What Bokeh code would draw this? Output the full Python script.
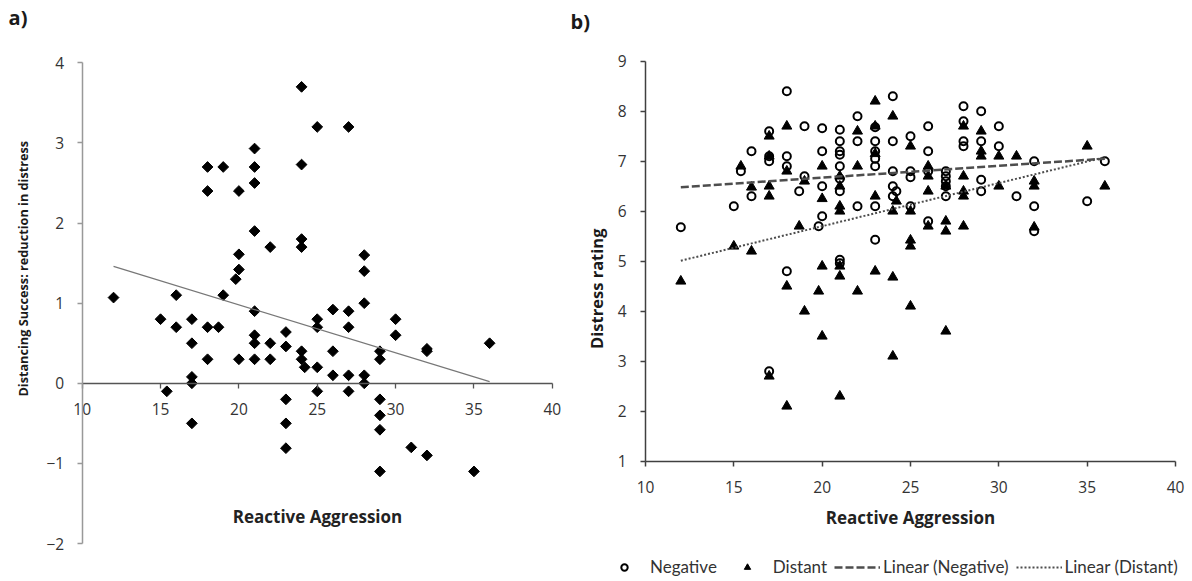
import numpy as np
from bokeh.plotting import figure
from bokeh.layouts import row
from bokeh.models import Range1d, FixedTicker, Legend, LegendItem, Label
from bokeh.embed import file_html
from bokeh.resources import INLINE

# ---------------- data ----------------
x_ticks = [10, 15, 20, 25, 30, 35, 40]
a_y_ticks = [-2, -1, 0, 1, 2, 3, 4]
b_y_ticks = [1, 2, 3, 4, 5, 6, 7, 8, 9]

# panel a: Reactive Aggression vs Distancing Success
a_reactive = [12, 15, 15.4, 16, 16, 17, 17, 17, 17, 17, 18, 18, 18, 18, 18.7, 19, 19,
              19.8, 20, 20, 20, 20, 21, 21, 21, 21, 21, 21, 21, 21, 22, 22, 22, 23, 23,
              23, 23, 23, 24, 24, 24, 24, 24, 24, 24.2, 25, 25, 25, 25, 25, 26, 26, 26,
              27, 27, 27, 27, 27, 28, 28, 28, 28, 28, 29, 29, 29, 29, 29, 29, 30, 30, 31,
              32, 32, 32, 35, 36]
a_success = [1.07, 0.8, -0.1, 1.1, 0.7, 0.8, 0.5, 0.08, 0.0, -0.5, 2.7, 2.4, 0.7, 0.3,
             0.7, 2.7, 1.1, 1.3, 2.4, 1.61, 1.42, 0.3, 2.93, 2.7, 2.5, 1.9, 0.9, 0.6, 0.5,
             0.3, 1.7, 0.5, 0.3, 0.64, 0.46, -0.2, -0.5, -0.81, 3.7, 2.73, 1.8, 1.7, 0.4,
             0.3, 0.2, 3.2, 0.8, 0.7, 0.2, -0.1, 0.92, 0.4, 0.1, 3.2, 0.9, 0.7, 0.1, -0.1,
             1.6, 1.4, 1.0, 0.1, 0.0, 0.4, 0.3, -0.2, -0.4, -0.58, -1.1, 0.8, 0.6, -0.8,
             0.43, 0.4, -0.9, -1.1, 0.5]
a_trend_x = [12, 36]
a_trend_y = [1.46, 0.02]

# panel b: Distress rating (Negative / Distant)
neg_x = [12, 15, 15.4, 16, 16, 17, 17, 17, 17, 18, 18, 18, 18, 18.7, 19, 19, 19.8,
         20, 20, 20, 20, 21, 21, 21, 21, 21, 21, 21, 21, 21, 22, 22, 22,
         23, 23, 23, 23, 23, 23, 23, 24, 24, 24, 24, 24, 24.2, 25, 25, 25, 25,
         26, 26, 26, 26, 27, 27, 27, 27, 27, 28, 28, 28, 28, 29, 29, 29, 29,
         30, 30, 31, 32, 32, 32, 35, 36]
neg_y = [5.68, 6.1, 6.8, 7.2, 6.3, 7.6, 7.1, 7.0, 2.8, 8.4, 7.1, 6.9, 4.8, 6.4, 7.7, 6.7, 5.7,
         7.66, 7.2, 6.5, 5.9, 7.63, 7.4, 7.2, 7.13, 6.9, 6.65, 6.4, 5.03, 4.96, 7.9, 7.4, 6.1,
         7.68, 7.4, 7.2, 7.05, 6.9, 6.1, 5.43, 8.3, 7.4, 6.8, 6.5, 6.3, 6.4, 7.5, 6.8, 6.68, 6.1,
         7.7, 7.2, 6.8, 5.8, 6.8, 6.7, 6.6, 6.5, 6.3, 8.1, 7.8, 7.4, 7.3, 8.0, 7.4, 6.63, 6.4,
         7.7, 7.3, 6.3, 7.0, 6.1, 5.6, 6.2, 7.0]
dist_x = [12, 15, 15.4, 16, 16, 17, 17, 17, 17, 17, 18, 18, 18, 18, 18.7, 19, 19, 19.8,
          20, 20, 20, 20, 21, 21, 21, 21, 21, 21, 21, 22, 22, 22, 23, 23, 23, 23, 23,
          24, 24, 24, 24, 24.2, 25, 25, 25, 25, 25, 26, 26, 26, 26, 27, 27, 27, 27,
          28, 28, 28, 28, 28, 29, 29, 29, 30, 30, 31, 32, 32, 32, 35, 36]
dist_y = [4.6, 5.3, 6.9, 6.48, 5.2, 7.5, 7.1, 6.5, 6.3, 2.7, 7.7, 6.8, 4.5, 2.1, 5.7, 6.6, 4.0, 4.4,
          6.9, 6.25, 4.9, 3.5, 6.7, 6.5, 6.1, 6.0, 4.9, 4.7, 2.3, 7.6, 6.9, 4.4, 8.2, 7.7, 7.15, 6.3, 4.8,
          7.9, 6.0, 4.68, 3.1, 6.2, 7.3, 6.0, 5.42, 5.3, 4.1, 6.9, 6.7, 6.4, 5.7, 6.5, 5.8, 5.6, 3.6,
          7.7, 6.7, 6.4, 6.3, 5.7, 7.6, 7.2, 7.1, 7.1, 6.5, 7.1, 6.6, 6.5, 5.68, 7.3, 6.5]
b_trend_x = [12, 36]
neg_trend_y = [6.48, 7.05]
dist_trend_y = [5.01, 7.08]

TICK_FONT = "Open Sans"
LABEL_FONT = "Open Sans"
LEGEND_FONT = "Lato"


def style_axis(ax, color, width):
    ax.axis_line_color = color
    ax.axis_line_width = width
    ax.major_tick_line_color = color
    ax.major_tick_line_width = width
    ax.major_tick_out = 5
    ax.major_tick_in = 0
    ax.minor_tick_line_color = None
    ax.major_label_text_font = TICK_FONT
    ax.major_label_text_font_size = "15.5px"
    ax.major_label_text_color = "#333333"
    ax.axis_label_text_font = LABEL_FONT
    ax.axis_label_text_font_style = "bold"
    ax.axis_label_text_font_size = "17px"
    ax.axis_label_text_color = "#222222"


def add_text(p, text, x, y, size, angle=0.0, align="left"):
    p.add_layout(Label(x=x, y=y, text=text, angle=angle, text_font=LABEL_FONT,
                       text_font_size=size, text_font_style="bold", text_color="#1a1a1a",
                       text_baseline="middle", text_align=align))


# ---------------- panel a ----------------
# the frame covers the whole panel; axes sit inside it at fixed locations
pa = figure(width=566, height=581, x_range=Range1d(5.169, 40.779),
            y_range=Range1d(-2.474, 4.778),
            output_backend="svg", toolbar_location=None,
            min_border_left=6, min_border_right=2, min_border_top=0, min_border_bottom=0)
pa.outline_line_color = None
pa.grid.visible = False
add_text(pa, "a)", 5.3, 4.57, "20px")
add_text(pa, "Distancing Success: reduction in distress", 6.25, 1.43, "12.7px",
         angle=np.pi / 2, align="center")

pa.scatter(a_reactive, a_success, marker="square", size=7.6, angle=np.pi / 4,
           fill_color="black", line_color="black")
pa.line(a_trend_x, a_trend_y, line_color="#777777", line_width=1.2)

xa = pa.xaxis[0]
xa.ticker = FixedTicker(ticks=x_ticks)
xa.fixed_location = 0
xa.bounds = (10, 40)
style_axis(xa, "#555555", 1.3)
xa.axis_label = "Reactive Aggression"
xa.major_label_standoff = 15
xa.axis_label_standoff = 86

ya = pa.yaxis[0]
ya.ticker = FixedTicker(ticks=a_y_ticks)
ya.fixed_location = 10
ya.bounds = (-2, 4)
style_axis(ya, "#999999", 1.5)
ya.major_label_standoff = 13

# ---------------- panel b ----------------
pb = figure(width=626, height=581, x_range=Range1d(5.529, 40.849),
            y_range=Range1d(-1.406, 10.214),
            output_backend="svg", toolbar_location=None,
            min_border_left=0, min_border_right=2, min_border_top=0, min_border_bottom=0)
pb.outline_line_color = None
pb.grid.visible = False
add_text(pb, "b)", 5.76, 9.79, "20px")
add_text(pb, "Distress rating", 7.23, 4.45, "16.5px", angle=np.pi / 2, align="center")

r_neg = pb.scatter(neg_x, neg_y, marker="circle", size=8, fill_color=None,
                   line_color="black", line_width=2)
r_dist = pb.scatter(dist_x, dist_y, marker="triangle", size=10, fill_color="black",
                    line_color="black", line_width=1)
r_ntr = pb.line(b_trend_x, neg_trend_y, line_color="#4d4d4d", line_width=2.5, line_dash="8 3")
r_dtr = pb.line(b_trend_x, dist_trend_y, line_color="#4d4d4d", line_width=2, line_dash="2 2")

xb = pb.xaxis[0]
xb.ticker = FixedTicker(ticks=x_ticks)
xb.fixed_location = 1
xb.bounds = (10, 40)
style_axis(xb, "#404040", 1.5)
xb.axis_label = "Reactive Aggression"
xb.major_label_standoff = 15
xb.axis_label_standoff = 9

yb = pb.yaxis[0]
yb.ticker = FixedTicker(ticks=b_y_ticks)
yb.fixed_location = 10
yb.bounds = (1, 9)
style_axis(yb, "#404040", 1.5)
yb.major_label_standoff = 14

legend = Legend(items=[
    LegendItem(label="Negative", renderers=[r_neg]),
    LegendItem(label="Distant", renderers=[r_dist]),
    LegendItem(label="Linear (Negative)", renderers=[r_ntr]),
    LegendItem(label="Linear (Distant)", renderers=[r_dtr]),
], orientation="horizontal", location=(35, 4))
legend.border_line_color = None
legend.background_fill_alpha = 0
legend.label_text_font = LEGEND_FONT
legend.label_text_font_size = "17px"
legend.label_text_color = "#333333"
legend.glyph_width = 46
legend.glyph_height = 16
legend.label_standoff = 3
legend.spacing = 7
legend.padding = 4
legend.margin = 0
pb.add_layout(legend, "center")

layout = row(pa, pb)
open("out.html", "w").write(file_html(layout, INLINE))
